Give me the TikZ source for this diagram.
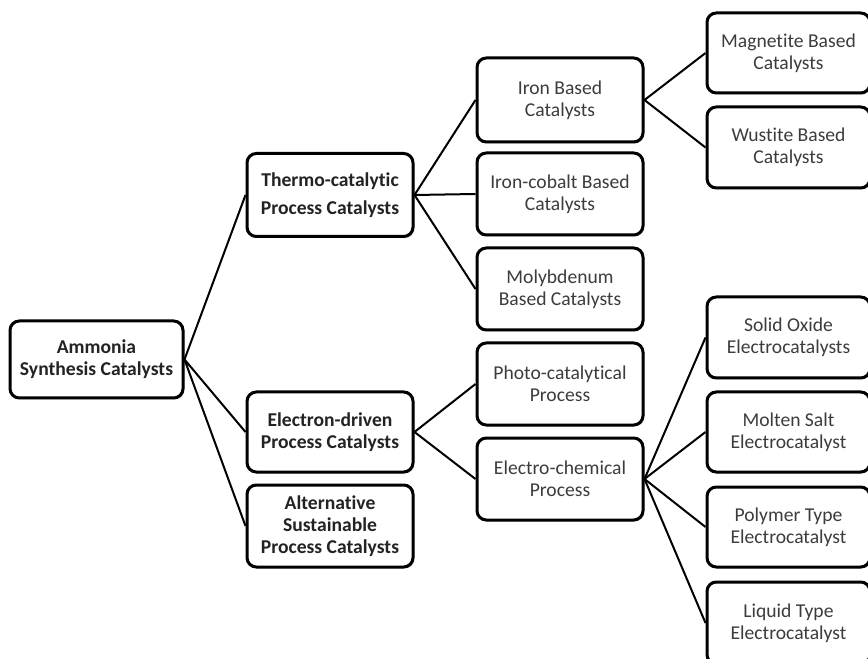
\documentclass[tikz,border=0pt]{standalone}
\usepackage{fontspec}
\setmainfont{Carlito}[Ligatures=NoCommon]
\usetikzlibrary{shadows}
\definecolor{txt}{RGB}{60,60,60}
\definecolor{txtb}{RGB}{35,35,35}
\tikzset{
  box/.style={draw=black, line width=2.25pt, rounded corners=7pt, fill=white,
    align=center, text=txt, inner sep=0pt,
    font=\fontsize{14.7}{16.5}\selectfont,
    drop shadow={opacity=0.25, shadow xshift=1.2pt, shadow yshift=-1.2pt}},
  boldbox/.style={box, text=txtb, font=\fontsize{14.7}{16.5}\selectfont\bfseries},
  conn/.style={draw=black, line width=1.5pt},
}
\begin{document}
\begin{tikzpicture}[x=0.75pt, y=-0.75pt]
\useasboundingbox (0,0) rectangle (868,659);
% level 0
\node[boldbox, minimum width=129.75pt, minimum height=57.75pt] (amm) at (96.5,359.5) {Ammonia\\Synthesis Catalysts};
% level 1
\node[boldbox, minimum width=124.5pt, minimum height=62.25pt, font=\fontsize{14.7}{21}\selectfont\bfseries] (thermo) at (330,195) {Thermo-catalytic\\Process Catalysts};
\node[boldbox, minimum width=124.5pt, minimum height=60pt] (elec) at (330,432) {Electron-driven\\Process Catalysts};
\node[boldbox, minimum width=124.5pt, minimum height=61.5pt] (alt) at (330,526) {Alternative\\Sustainable\\Process Catalysts};
% level 2
\node[box, minimum width=124.5pt, minimum height=63pt] (iron) at (560,100) {Iron Based\\Catalysts};
\node[box, minimum width=124.5pt, minimum height=61.5pt] (ironco) at (560,194) {Iron-cobalt Based\\Catalysts};
\node[box, minimum width=124.5pt, minimum height=61.5pt] (moly) at (560,289) {Molybdenum\\Based Catalysts};
\node[box, minimum width=124.5pt, minimum height=61.5pt] (photo) at (560,384) {Photo-catalytical\\Process};
\node[box, minimum width=124.5pt, minimum height=61.5pt] (echem) at (560,479) {Electro-chemical\\Process};
% level 3
\node[box, minimum width=122.25pt, minimum height=60pt] (magn) at (788.5,53) {Magnetite Based\\Catalysts};
\node[box, minimum width=122.25pt, minimum height=60.75pt] (wust) at (788.5,147.5) {Wustite Based\\Catalysts};
\node[box, minimum width=122.25pt, minimum height=60.75pt] (solid) at (788.5,337.5) {Solid Oxide\\Electrocatalysts};
\node[box, minimum width=122.25pt, minimum height=60pt] (molten) at (788.5,432) {Molten Salt\\Electrocatalyst};
\node[box, minimum width=122.25pt, minimum height=60pt] (poly) at (788.5,527) {Polymer Type\\Electrocatalyst};
\node[box, minimum width=122.25pt, minimum height=61.5pt] (liquid) at (788.5,623) {Liquid Type\\Electrocatalyst};
% connectors
\draw[conn] (amm.east) -- (thermo.west);
\draw[conn] (amm.east) -- (elec.west);
\draw[conn] (amm.east) -- (alt.west);
\draw[conn] (thermo.east) -- (iron.west);
\draw[conn] (thermo.east) -- (ironco.west);
\draw[conn] (thermo.east) -- (moly.west);
\draw[conn] (elec.east) -- (photo.west);
\draw[conn] (elec.east) -- (echem.west);
\draw[conn] (iron.east) -- (magn.west);
\draw[conn] (iron.east) -- (wust.west);
\draw[conn] (echem.east) -- (solid.west);
\draw[conn] (echem.east) -- (molten.west);
\draw[conn] (echem.east) -- (poly.west);
\draw[conn] (echem.east) -- (liquid.west);
\end{tikzpicture}
\end{document}
